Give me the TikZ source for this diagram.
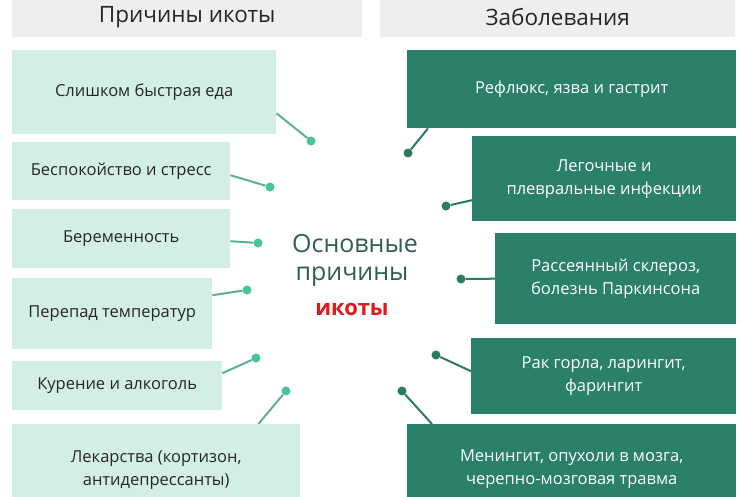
\documentclass[tikz,border=0pt]{standalone}
\usepackage{fontspec}
\setmainfont{Open Sans}
\usepackage{tikz}
\usetikzlibrary{positioning}
\definecolor{mint}{HTML}{D3EFE3}
\definecolor{teal}{HTML}{2A8068}
\definecolor{headgrey}{HTML}{EEEEEE}
\definecolor{mintline}{HTML}{5AB096}
\definecolor{mintdot}{HTML}{46C49B}
\definecolor{tealline}{HTML}{2B7A62}
\definecolor{titlecol}{HTML}{2D5E52}
\definecolor{hicred}{HTML}{E01A1A}
\pgfdeclarelayer{nodelayer}
\pgfdeclarelayer{edgelayer}
\pgfsetlayers{edgelayer,nodelayer,main}
\tikzset{head/.style={fill=headgrey, anchor=north west, inner sep=0pt, text=black!85, font=\fontsize{22.5}{26}\selectfont}}
\tikzset{cause/.style={fill=mint, anchor=north west, inner sep=0pt, align=center, text=black!85, font=\fontsize{16.5}{23}\selectfont}}
\tikzset{ill/.style={fill=teal, anchor=north west, inner sep=0pt, align=center, text=white, font=\fontsize{16.5}{23}\selectfont}}
\tikzset{ldot/.style={circle, fill=mintdot, inner sep=0pt, minimum size=9pt}}
\tikzset{rdot/.style={circle, fill=tealline, inner sep=0pt, minimum size=9pt}}
\tikzset{lline/.style={draw=mintline, line width=2pt}}
\tikzset{rline/.style={draw=tealline, line width=2pt}}

\begin{document}
\begin{tikzpicture}[x=1pt, y=-1pt]
        \clip (0,0) rectangle (750,496);
        \begin{pgfonlayer}{nodelayer}
            \node [style=head, minimum width=350pt, minimum height=41pt] (h0) at (12,-4) {Причины икоты};
            \node [style=head, minimum width=355pt, minimum height=41pt] (h1) at (380,-4) {Заболевания};
            % causes
            \node [style=cause, minimum width=264pt, minimum height=84pt] (0) at (12,50) {Слишком быстрая еда};
            \node [style=cause, minimum width=218pt, minimum height=58pt] (1) at (12,142) {Беспокойство и стресс};
            \node [style=cause, minimum width=218pt, minimum height=59pt] (2) at (12,209) {Беременность};
            \node [style=cause, minimum width=200pt, minimum height=71pt] (3) at (12,278) {Перепад температур};
            \node [style=cause, minimum width=210pt, minimum height=49pt] (4) at (12,361) {Курение и алкоголь};
            \node [style=cause, minimum width=288pt, minimum height=92pt] (5) at (12,424) {Лекарства (кортизон,\\антидепрессанты)};
            % diseases
            \node [style=ill, minimum width=329pt, minimum height=78pt] (6) at (407,50) {Рефлюкс, язва и гастрит};
            \node [style=ill, minimum width=264pt, minimum height=85pt] (7) at (472,136) {Легочные и\\плевральные инфекции};
            \node [style=ill, minimum width=241pt, minimum height=91pt] (8) at (495,233) {Рассеянный склероз,\\болезнь Паркинсона};
            \node [style=ill, minimum width=265pt, minimum height=76pt] (9) at (471,338) {Рак горла, ларингит,\\фарингит};
            \node [style=ill, minimum width=329pt, minimum height=90pt] (10) at (407,424) {Менингит, опухоли в мозга,\\черепно-мозговая травма};
            % centre
            \node [anchor=base, text=titlecol, font=\fontsize{25}{28}\selectfont] (11) at (355,252) {Основные};
            \node [anchor=base, text=titlecol, font=\fontsize{25}{28}\selectfont] (12) at (352,280) {причины};
            \node [anchor=base, text=hicred, font=\fontsize{22}{28}\selectfont\bfseries] (13) at (352,315) {икоты};
            % dots
            \node [style=ldot] (20) at (311,141) {};
            \node [style=ldot] (21) at (270,187) {};
            \node [style=ldot] (22) at (258,243) {};
            \node [style=ldot] (23) at (247,290) {};
            \node [style=ldot] (24) at (256,358) {};
            \node [style=ldot] (25) at (286,391) {};
            \node [style=rdot] (26) at (408,153) {};
            \node [style=rdot] (27) at (446,206) {};
            \node [style=rdot] (28) at (461,279) {};
            \node [style=rdot] (29) at (436,355) {};
            \node [style=rdot] (30) at (402,391) {};
        \end{pgfonlayer}
        \begin{pgfonlayer}{edgelayer}
            \draw [style=lline] ([yshift=-21pt]0.east) to (20);
            \draw [style=lline] ([yshift=-4pt]1.east) to (21);
            \draw [style=lline] ([yshift=-2.5pt]2.east) to (22);
            \draw [style=lline] ([yshift=18.5pt]3.east) to (23);
            \draw [style=lline] ([yshift=12.5pt]4.east) to (24);
            \draw [style=lline] ([xshift=-42pt]5.north east) to (25);
            \draw [style=rline] ([xshift=21pt]6.south west) to (26);
            \draw [style=rline] ([yshift=-21.5pt]7.west) to (27);
            \draw [style=rline] (8.west) to (28);
            \draw [style=rline] ([yshift=5pt]9.west) to (29);
            \draw [style=rline] ([xshift=25pt]10.north west) to (30);
        \end{pgfonlayer}
    \end{tikzpicture}
\end{document}
